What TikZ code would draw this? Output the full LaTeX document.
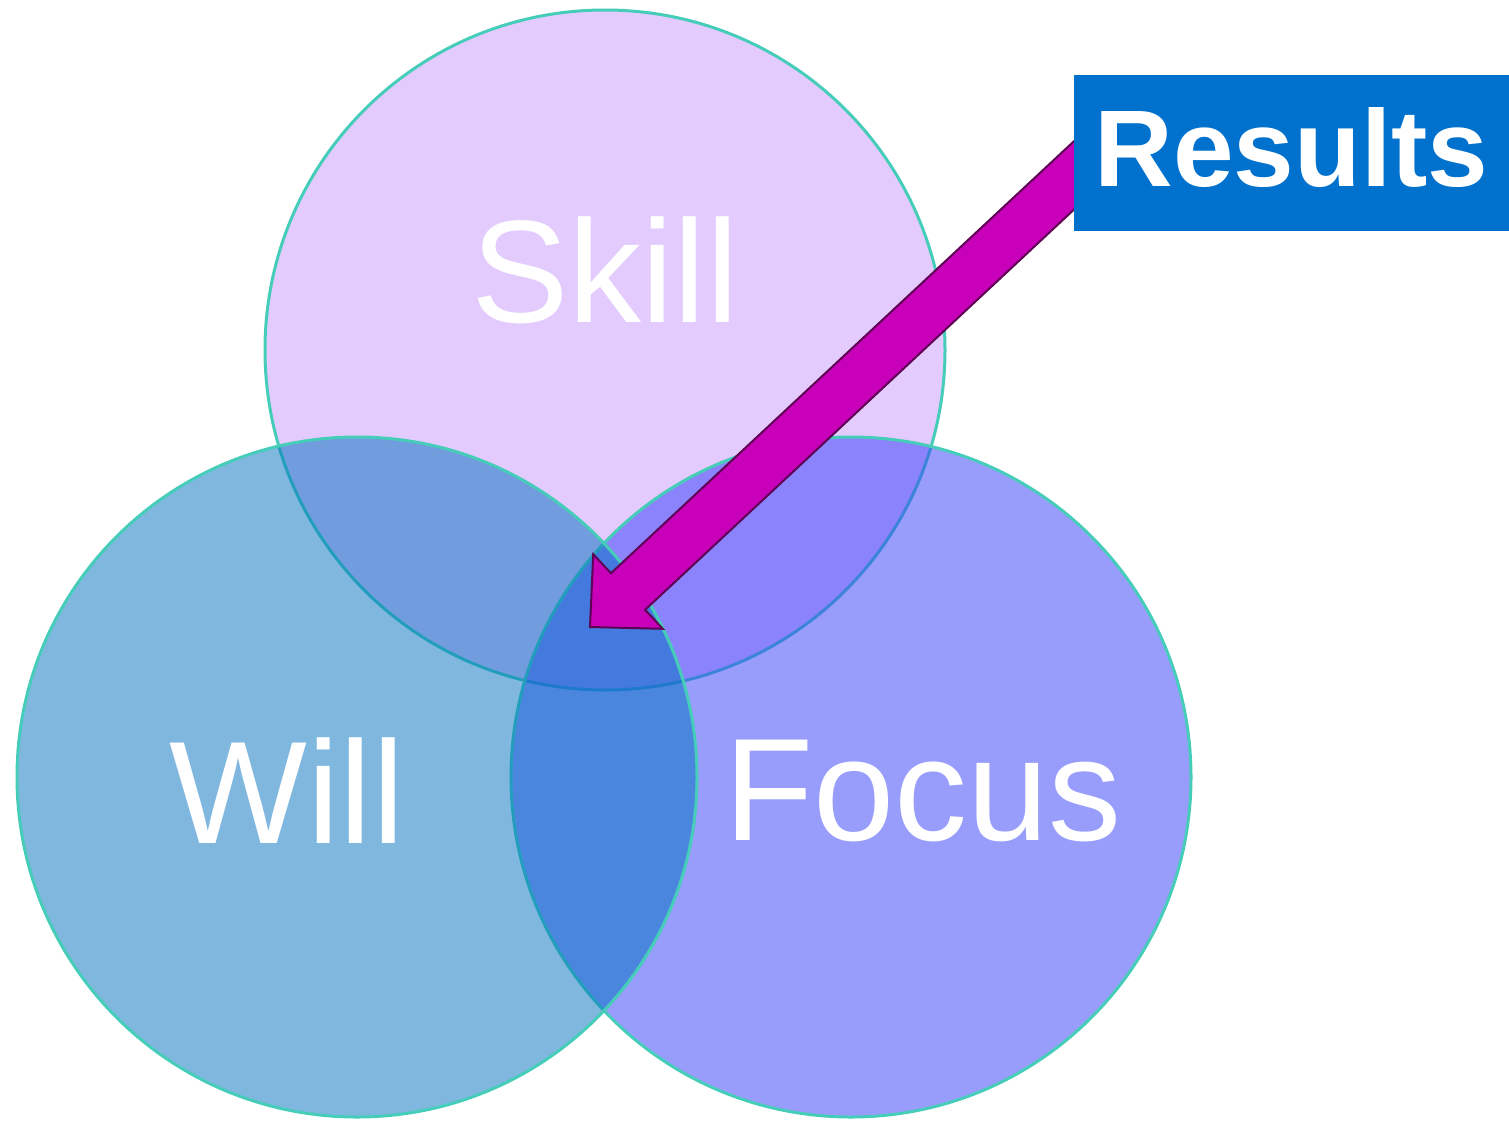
\documentclass[tikz,border=0pt]{standalone}
\usepackage{fontspec}
\setmainfont{Liberation Sans}
\usepackage{tikz}
\usetikzlibrary{calc, backgrounds, positioning}
\pgfdeclarelayer{front}
\pgfsetlayers{main,front}
\definecolor{skillpurple}{RGB}{227,203,254}
\definecolor{willblue}{RGB}{0,112,192}
\definecolor{focusblue}{RGB}{50,60,250}
\definecolor{rimteal}{RGB}{70,205,185}
\definecolor{resultsblue}{RGB}{0,114,206}
\definecolor{arrowmagenta}{RGB}{200,0,185}
\definecolor{arrowedge}{RGB}{95,0,85}
\tikzset{
    circlenode/.style = {circle, draw=rimteal, line width=1.5pt, inner sep = 0em, 
      minimum size=340pt, node distance=0em},
    textnode/.style  = {draw=none, fill=none, rectangle, inner sep = 0em, node distance=0em, 
      text=white, font=\fontsize{73pt}{80pt}\selectfont},
    boxnode/.style = {draw=none, fill=resultsblue, rectangle, inner sep = 0em, node distance=0em, 
      minimum width=218pt, minimum height=78pt, text depth=6pt, text=white, 
      font=\fontsize{54.5pt}{64pt}\selectfont\bfseries},
    blockarrow/.style = {fill=arrowmagenta, draw=arrowedge, line width=1pt, line join=miter}
}

\begin{document}
\begin{tikzpicture}
\useasboundingbox (0pt,0pt) rectangle (754.5pt,-560pt);

\node [circlenode, name = skill, fill = skillpurple] at (302.5pt,-175pt) {};
\node [circlenode, name = focus, below of = skill, xshift=123pt, yshift=-213.5pt, 
    fill = focusblue, fill opacity=0.5] {};
\node [circlenode, name = will, below of = skill, xshift=-124pt, yshift=-213.5pt, 
    fill = willblue, fill opacity=0.5] {};

\node [textnode, name = skilllabel, above of = skill, yshift=40pt] {Skill};
\node [textnode, name = willlabel, left of = will, xshift=-35pt, yshift=-7pt] {Will};
\node [textnode, name = focuslabel, right of = focus, xshift=36pt, yshift=-7pt] {Focus};

\begin{pgfonlayer}{front}
\node [boxnode, name = results, right of = skill, xshift=343.25pt, yshift=98.5pt] {Results};
\end{pgfonlayer}

% block arrow from the box into the middle
\coordinate (tip) at ($(skill.center)+(-7.5pt,-138.5pt)$);
\coordinate (tail) at ($(results.west)+(36pt,22pt)$);
\coordinate (headbase) at ($(tip)!26pt!(tail)$);
\draw [blockarrow] (tip) -- ($(headbase)!25.5pt!90:(tail)$) -- ($(headbase)!12.5pt!90:(tail)$) 
    -- ($(tail)!12.5pt!-90:(headbase)$) -- ($(tail)!12.5pt!90:(headbase)$) 
    -- ($(headbase)!12.5pt!-90:(tail)$) -- ($(headbase)!25.5pt!-90:(tail)$) -- cycle;

\end{tikzpicture}
\end{document}
